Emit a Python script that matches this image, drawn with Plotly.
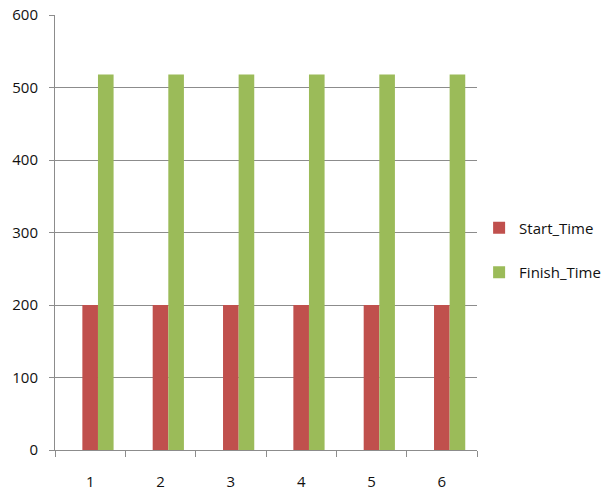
import plotly.graph_objects as go

categories = ["1", "2", "3", "4", "5", "6"]
start_time = [200, 200, 200, 200, 200, 200]
finish_time = [518, 518, 518, 518, 518, 518]
y_ticks = [0, 100, 200, 300, 400, 500, 600]

FONT = "Open Sans"
GRID = "#8c8c8c"
TXT = "#111111"

fig = go.Figure()
fig.add_trace(go.Bar(
    x=categories, y=start_time, name="Start_Time",
    marker=dict(color="#C0504D", line=dict(width=0)),
    width=0.222, offset=-0.111, legendgroup="a",
))
fig.add_trace(go.Bar(
    x=categories, y=finish_time, name="Finish_Time",
    marker=dict(color="#9BBB59", line=dict(width=0)),
    width=0.222, offset=0.111, legendgroup="b",
))

fig.update_layout(
    width=612, height=491,
    margin=dict(l=55, r=135, t=15, b=41, autoexpand=False),
    paper_bgcolor="white", plot_bgcolor="white",
    barmode="overlay",
    font=dict(family=FONT, size=15, color=TXT),
    legend=dict(
        x=1.005, xanchor="left", y=0.46, yanchor="middle",
        traceorder="grouped", tracegroupgap=22,
        font=dict(family=FONT, size=15, color=TXT),
        itemwidth=30,
    ),
    xaxis=dict(
        type="category", categoryorder="array", categoryarray=categories,
        tickson="boundaries", ticks="outside", ticklen=6, tickcolor=GRID,
        showline=True, linecolor=GRID, linewidth=1,
        showgrid=False, zeroline=False,
        ticklabelstandoff=18,
        tickfont=dict(family=FONT, size=15, color=TXT),
    ),
    yaxis=dict(
        range=[0, 600], tickvals=y_ticks,
        ticks="outside", ticklen=5, tickcolor=GRID,
        showline=True, linecolor=GRID, linewidth=1,
        showgrid=True, gridcolor=GRID, gridwidth=1,
        zeroline=False, ticklabelstandoff=8,
        tickfont=dict(family=FONT, size=15, color=TXT),
    ),
)

fig.write_html("out.html")
